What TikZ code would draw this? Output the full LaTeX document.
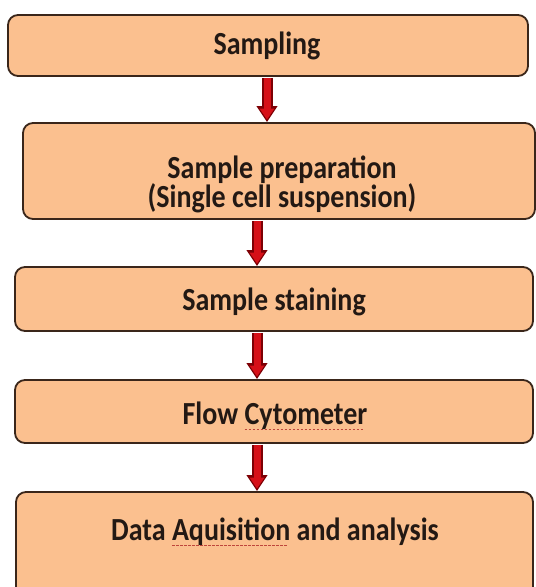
\documentclass[tikz,border=0pt]{standalone}
\usepackage{fontspec}
\setmainfont{Carlito}
\usetikzlibrary{arrows.meta}
\definecolor{boxfill}{RGB}{251,192,143}
\definecolor{boxedge}{RGB}{58,38,26}
\definecolor{arrred}{RGB}{214,16,24}
\definecolor{arredge}{RGB}{125,0,5}
\definecolor{spell}{RGB}{190,70,60}
\definecolor{txt}{RGB}{35,25,20}
\newcommand\tallt[1]{\scalebox{1}[1.15]{#1}}
\newsavebox\spellbox
\newcommand\spellu[1]{\sbox\spellbox{#1}\rlap{\hbox to \wd\spellbox{\color{spell}\leaders\hbox{\rule[-4.5bp]{2.5bp}{1.2bp}\hspace{1.5bp}}\hfill}}\usebox\spellbox}
\begin{document}
\begin{tikzpicture}[x=1bp,y=1bp,
  box/.style={draw=boxedge, line width=1.8bp, fill=boxfill, rounded corners=10bp, inner sep=0pt},
  lbl/.style={font=\fontsize{28bp}{34bp}\selectfont\bfseries, text=txt, inner sep=0pt, anchor=base},
  arrback/.style={draw=arredge, line width=11bp, shorten <=1bp, -{Triangle[width=20bp,length=16bp]}},
  arrfront/.style={draw=arrred, line width=7bp, shorten <=1bp, shorten >=2.5bp, -{Triangle[width=14bp,length=11bp]}}]
\fill[white] (0,0) rectangle (536,587);
\useasboundingbox (0,0) rectangle (536,587);
\clip (0,0) rectangle (536,587);
% boxes
\node[box, minimum width=520bp, minimum height=61bp] (b1) at (268,541.5) {};
\node[box, minimum width=512bp, minimum height=96bp] (b2) at (279,416) {};
\node[box, minimum width=518bp, minimum height=64bp] (b3) at (274,288) {};
\node[box, minimum width=518bp, minimum height=63bp] (b4) at (274,175.5) {};
\node[box, minimum width=517bp, minimum height=108bp] (b5) at (274.5,41) {};
% texts
\node[lbl] (t1) at (267,532) {\tallt{Sampling}};
\node[lbl] (t2a) at (282,408) {\tallt{Sample preparation}};
\node[lbl] (t2b) at (282,379) {\tallt{(Single cell suspension)}};
\node[lbl] (t3) at (274,276) {\tallt{Sample staining}};
\node[lbl] (t4) at (275,162) {\tallt{Flow \spellu{Cytometer}}};
\node[lbl] (t5) at (275,46) {\tallt{Data \spellu{Aquisition} and analysis}};
% arrows
\coordinate (a1) at (267,0);
\coordinate (a2) at (257,0);
\draw[arrback] (b1.south -| a1) -- (b2.north -| a1);
\draw[arrfront] (b1.south -| a1) -- (b2.north -| a1);
\foreach \u/\v in {b2/b3, b3/b4, b4/b5}{
  \draw[arrback] (\u.south -| a2) -- (\v.north -| a2);
  \draw[arrfront] (\u.south -| a2) -- (\v.north -| a2);
}
\end{tikzpicture}
\end{document}
